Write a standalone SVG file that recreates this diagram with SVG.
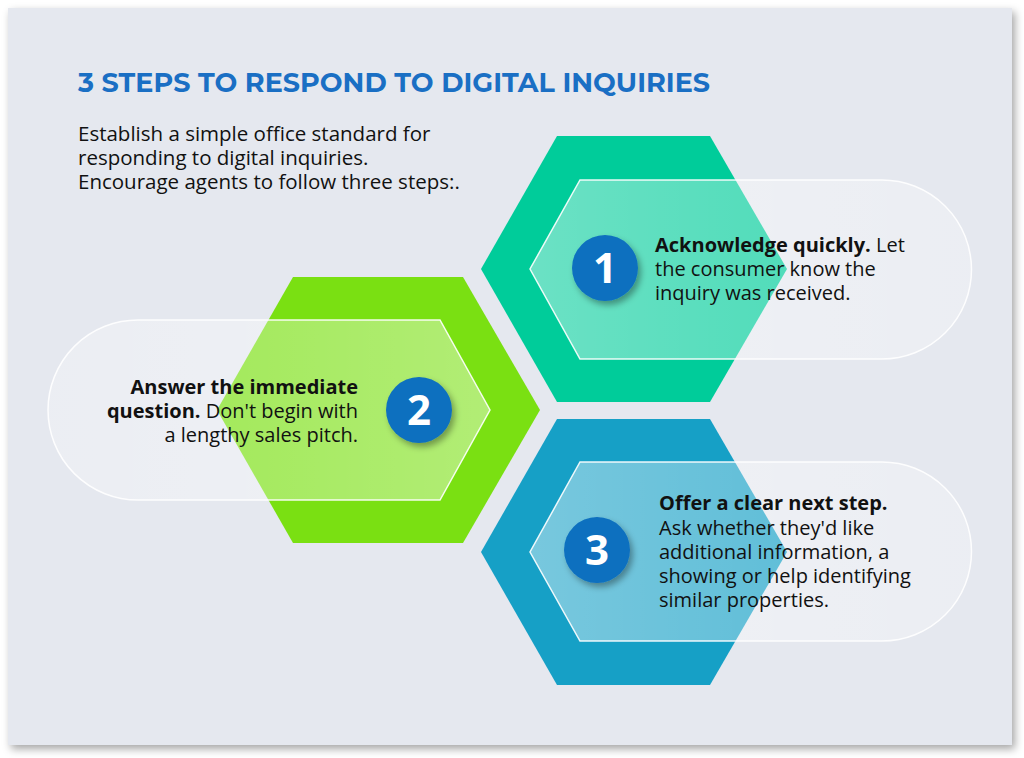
<svg xmlns="http://www.w3.org/2000/svg" width="1024" height="758" viewBox="0 0 1024 758">
<defs>
<filter id="sh" x="-10%" y="-10%" width="120%" height="120%"><feDropShadow dx="3" dy="4" stdDeviation="4" flood-opacity="0.35"/></filter>
<filter id="csh" x="-30%" y="-30%" width="160%" height="160%"><feDropShadow dx="3" dy="4" stdDeviation="3" flood-opacity="0.35"/></filter>
<linearGradient id="glassR" x1="0" x2="1" y1="0" y2="0"><stop offset="0" stop-color="#fff" stop-opacity="0.42"/><stop offset="1" stop-color="#fff" stop-opacity="0.25"/></linearGradient>
<linearGradient id="glassL" x1="0" x2="1" y1="0" y2="0"><stop offset="0" stop-color="#fff" stop-opacity="0.25"/><stop offset="1" stop-color="#fff" stop-opacity="0.42"/></linearGradient>
</defs>
<style>
.t{font-family:"Open Sans","Liberation Sans",sans-serif;font-size:20px;fill:#111}
.p{font-size:20.5px}
.b{font-weight:bold}
.n{font-family:"Open Sans","Liberation Sans",sans-serif;font-size:42px;font-weight:bold;fill:#fff}
.pill{stroke:#fff;stroke-width:1.5;stroke-opacity:0.9}
</style>
<rect width="1024" height="758" fill="#fff"/>
<rect x="8" y="8" width="1004" height="737" fill="#e5e8ef" filter="url(#sh)"/>
<text x="78" y="92" font-family="Montserrat,'Open Sans','Liberation Sans',sans-serif" font-size="27" font-weight="bold" fill="#1a6fc4">3 STEPS TO RESPOND TO DIGITAL INQUIRIES</text>
<text class="t p"><tspan x="78" y="141">Establish a simple office standard for</tspan><tspan x="78" y="165">responding to digital inquiries.</tspan><tspan x="78" y="189">Encourage agents to follow three steps:.</tspan></text>
<g id="step1">
<polygon points="557,136 710,136 787,269 710,402 557,402 481,269" fill="#00cc9a"/>
<path class="pill" d="M580,180 H882 A89.5,89.5 0 0 1 882,359 H580 L530,269 Z" fill="url(#glassR)"/>
<circle cx="605" cy="268" r="33" fill="#0d6fbf" filter="url(#csh)"/>
<text class="n" x="605" y="283" text-anchor="middle">1</text>
<text class="t"><tspan x="655" y="252" class="b">Acknowledge quickly.</tspan><tspan> Let</tspan><tspan x="655" y="276">the consumer know the</tspan><tspan x="655" y="300">inquiry was received.</tspan></text>
</g>
<g id="step2">
<polygon points="293,277 463,277 540,410 463,543 293,543 217,410" fill="#7ae012"/>
<path class="pill" d="M440,320 H138 A90,90 0 0 0 138,500 H440 L490,410 Z" fill="url(#glassL)"/>
<circle cx="419" cy="410" r="33" fill="#0d6fbf" filter="url(#csh)"/>
<text class="n" x="419" y="425" text-anchor="middle">2</text>
<text class="t" text-anchor="end"><tspan x="358" y="394" class="b">Answer the immediate</tspan><tspan x="358" y="418"><tspan class="b">question.</tspan> Don't begin with</tspan><tspan x="358" y="442">a lengthy sales pitch.</tspan></text>
</g>
<g id="step3">
<polygon points="557,419 710,419 787,552 710,685 557,685 481,552" fill="#16a0c6"/>
<path class="pill" d="M580,462 H882 A89.5,89.5 0 0 1 882,641 H580 L530,552 Z" fill="url(#glassR)"/>
<circle cx="597" cy="550" r="33" fill="#0d6fbf" filter="url(#csh)"/>
<text class="n" x="597" y="565" text-anchor="middle">3</text>
<text class="t"><tspan x="659" y="510" class="b">Offer a clear next step.</tspan><tspan x="659" y="535">Ask whether they'd like</tspan><tspan x="659" y="559">additional information, a</tspan><tspan x="659" y="583">showing or help identifying</tspan><tspan x="659" y="607">similar properties.</tspan></text>
</g>
<g id="connectors"/>
</svg>
